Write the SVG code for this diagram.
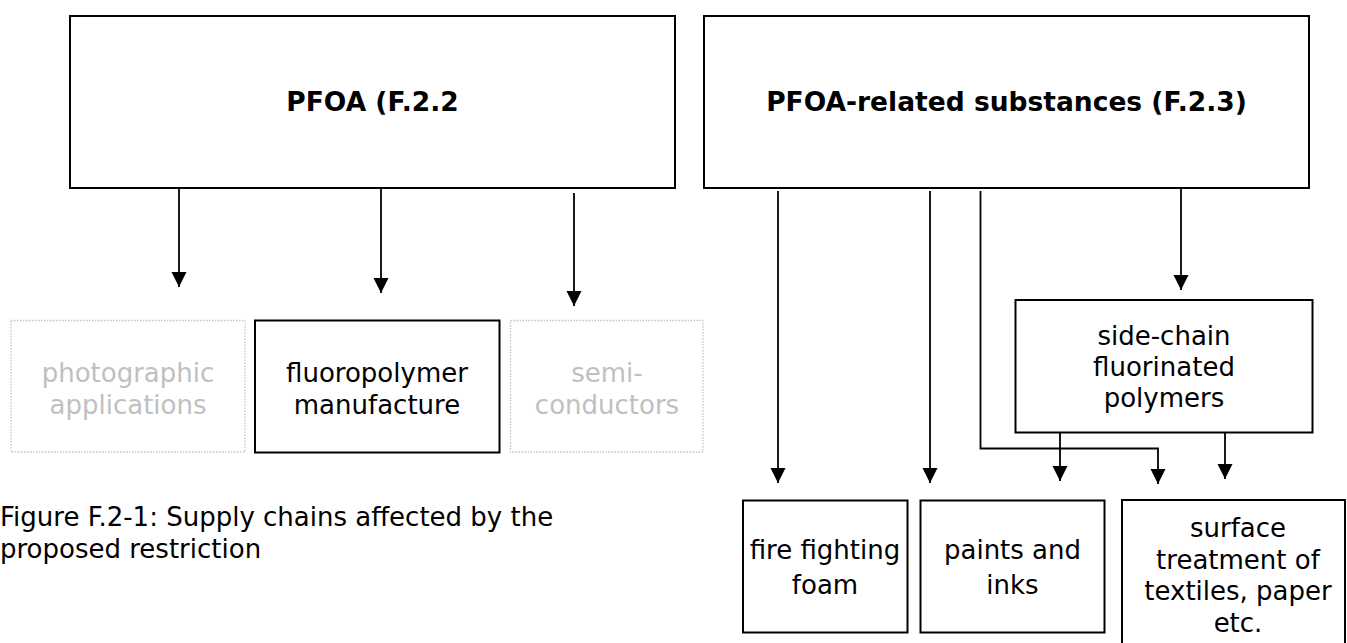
<svg xmlns="http://www.w3.org/2000/svg" width="1347" height="643" viewBox="0 0 1347 643">
<defs>
<style>
.box{fill:#fff;stroke:#000;stroke-width:2}
.dot{fill:#fff;stroke:#c4c4c4;stroke-width:1.3;stroke-dasharray:1.5 1.5}
.t{font-family:"DejaVu Sans",Verdana,sans-serif;font-size:26px;fill:#000;text-anchor:middle}
.b{font-weight:bold;font-size:26.5px}
.g{fill:#c0c0c0}
.cap{font-family:"DejaVu Sans",Verdana,sans-serif;font-size:26px;fill:#000}
.ln{fill:none;stroke:#000;stroke-width:1.8}
</style>
<marker id="ah" markerUnits="userSpaceOnUse" markerWidth="16" markerHeight="16" refX="15" refY="7.5" orient="auto">
<path d="M0,0 L15,7.5 L0,15 z" fill="#000"/>
</marker>
</defs>
<rect width="1347" height="643" fill="#fff"/>
<g id="connectors">
<path class="ln" d="M179,175 V287" marker-end="url(#ah)"/>
<path class="ln" d="M381,180 V293" marker-end="url(#ah)"/>
<path class="ln" d="M574,193 V306" marker-end="url(#ah)"/>
<path class="ln" d="M778,191 V483" marker-end="url(#ah)"/>
<path class="ln" d="M930,191 V483" marker-end="url(#ah)"/>
<path class="ln" d="M980.5,191 V448.5 H1158 V484" marker-end="url(#ah)"/>
<path class="ln" d="M1181,178 V290" marker-end="url(#ah)"/>
<path class="ln" d="M1060,422 V481" marker-end="url(#ah)"/>
<path class="ln" d="M1225,420 V479" marker-end="url(#ah)"/>
</g>
<g id="pfoa">
<rect class="box" x="70" y="16" width="605" height="172"/>
<text class="t b" x="372.5" y="111">PFOA (F.2.2</text>
</g>
<g id="related">
<rect class="box" x="704" y="16" width="605" height="172"/>
<text class="t b" x="1006.5" y="111">PFOA-related substances (F.2.3)</text>
</g>
<g id="photographic">
<rect class="dot" x="11" y="320.5" width="234" height="131.5"/>
<text class="t g" x="128" y="381.5">photographic</text>
<text class="t g" x="128" y="413.5">applications</text>
</g>
<g id="fluoropolymer">
<rect class="box" x="255" y="320.5" width="244.5" height="132"/>
<text class="t" x="377" y="381.5">fluoropolymer</text>
<text class="t" x="377" y="413.5">manufacture</text>
</g>
<g id="semiconductors">
<rect class="dot" x="510.5" y="320.5" width="192.5" height="131.5"/>
<text class="t g" x="607" y="381.5">semi-</text>
<text class="t g" x="607" y="413.5">conductors</text>
</g>
<g id="sidechain">
<rect class="box" x="1015.5" y="300" width="297" height="132.5"/>
<text class="t" x="1164" y="345">side-chain</text>
<text class="t" x="1164" y="376">fluorinated</text>
<text class="t" x="1164" y="407">polymers</text>
</g>
<g id="firefighting">
<rect class="box" x="743" y="500.5" width="164.5" height="132"/>
<text class="t" x="825" y="558.5">fire fighting</text>
<text class="t" x="825" y="594">foam</text>
</g>
<g id="paints">
<rect class="box" x="920.5" y="500.5" width="184" height="132"/>
<text class="t" x="1012.5" y="558.5">paints and</text>
<text class="t" x="1012.5" y="594">inks</text>
</g>
<g id="surface">
<rect class="box" x="1122" y="500" width="223" height="150"/>
<text class="t" x="1238" y="537">surface</text>
<text class="t" x="1238" y="568.5">treatment of</text>
<text class="t" x="1238" y="600">textiles, paper</text>
<text class="t" x="1238" y="632">etc.</text>
</g>
<g id="caption">
<text class="cap" x="0" y="526">Figure F.2-1: Supply chains affected by the</text>
<text class="cap" x="0" y="558">proposed restriction</text>
</g>
</svg>
